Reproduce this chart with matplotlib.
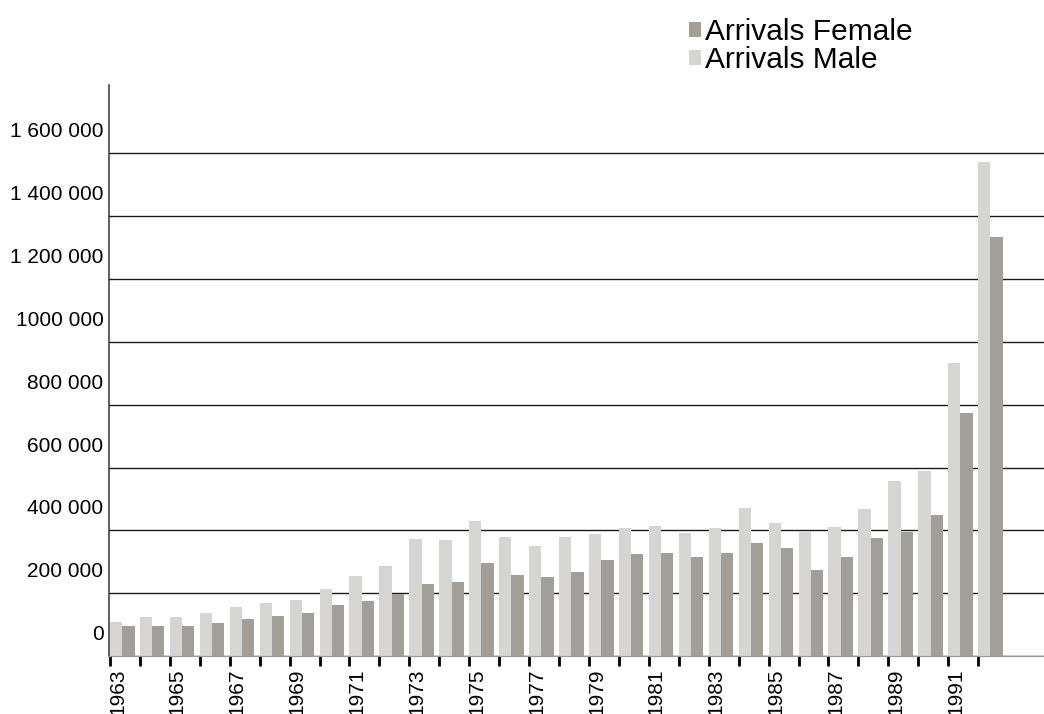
import matplotlib
matplotlib.use("Agg")
import matplotlib.pyplot as plt
import matplotlib.transforms as mtransforms
import numpy as np

plt.rcParams['font.family'] = ['Liberation Sans', 'DejaVu Sans']

years = list(range(1963, 1993))
male = [108, 125, 125, 136, 155, 168, 177, 212, 254, 287, 373, 368, 431, 380, 349,
        378, 389, 407, 413, 391, 408, 472, 424, 395, 412, 468, 557, 589, 932, 1574]
female = [96, 96, 96, 106, 118, 126, 136, 162, 175, 196, 228, 235, 296, 258, 251,
          267, 307, 324, 328, 315, 328, 360, 343, 273, 316, 375, 395, 449, 773, 1335]
male = [v * 1000 for v in male]
female = [v * 1000 for v in female]

ytick_values = [0, 200000, 400000, 600000, 800000, 1000000, 1200000, 1400000, 1600000]
ytick_labels = ["0", "200 000", "400 000", "600 000", "800 000", "1000 000",
                "1 200 000", "1 400 000", "1 600 000"]

male_color = "#d5d5d4"
female_color = "#a29f9a"

fig = plt.figure(figsize=(10.44, 7.14), dpi=100)
ax = fig.add_axes([109/1044, 58/714, 1 - 109/1044, (656 - 85)/714])

x = np.arange(len(years))
bw = 0.41
b_male = ax.bar(x, male, width=bw, align='edge', color=male_color, label="Arrivals Male", zorder=2)
b_fem = ax.bar(x + bw, female, width=bw, align='edge', color=female_color, label="Arrivals Female", zorder=2)

ax.set_xlim(-0.033, 31.2)
ax.set_ylim(0, 1818000)

# y axis
ax.set_yticks(ytick_values)
ax.set_yticklabels(ytick_labels)
ax.tick_params(axis='y', length=0, pad=4, labelsize=15)
ax.yaxis.grid(True, color='#1a1a1a', linewidth=1.0)
ax.set_axisbelow(True)
off_y = mtransforms.ScaledTranslation(0, 0.235, fig.dpi_scale_trans)
for lab in ax.get_yticklabels():
    lab.set_transform(lab.get_transform() + off_y)

# x axis
ax.set_xticks(x)
ax.set_xticklabels([str(y) if (y % 2 == 1) else "" for y in years], rotation=90)
ax.tick_params(axis='x', direction='out', length=7.5, width=2.0, color='black',
               pad=1.5, labelsize=15)
off_x = mtransforms.ScaledTranslation(0.075, 0, fig.dpi_scale_trans)
for lab in ax.get_xticklabels():
    lab.set_transform(lab.get_transform() + off_x)

for side in ['top', 'right']:
    ax.spines[side].set_visible(False)
ax.spines['left'].set_color('#333333')
ax.spines['left'].set_linewidth(1.1)
ax.spines['bottom'].set_color('#999999')
ax.spines['bottom'].set_linewidth(0.8)

fig.legend(handles=[b_fem, b_male], labels=["Arrivals Female", "Arrivals Male"],
           loc='upper left', bbox_to_anchor=(689/1044, 1 - 18/714),
           frameon=False, fontsize=21.5, handlelength=0.4, handleheight=0.4,
           handletextpad=0.15, labelspacing=0.0, borderpad=0, borderaxespad=0)

fig.savefig("out.png", dpi=100)
